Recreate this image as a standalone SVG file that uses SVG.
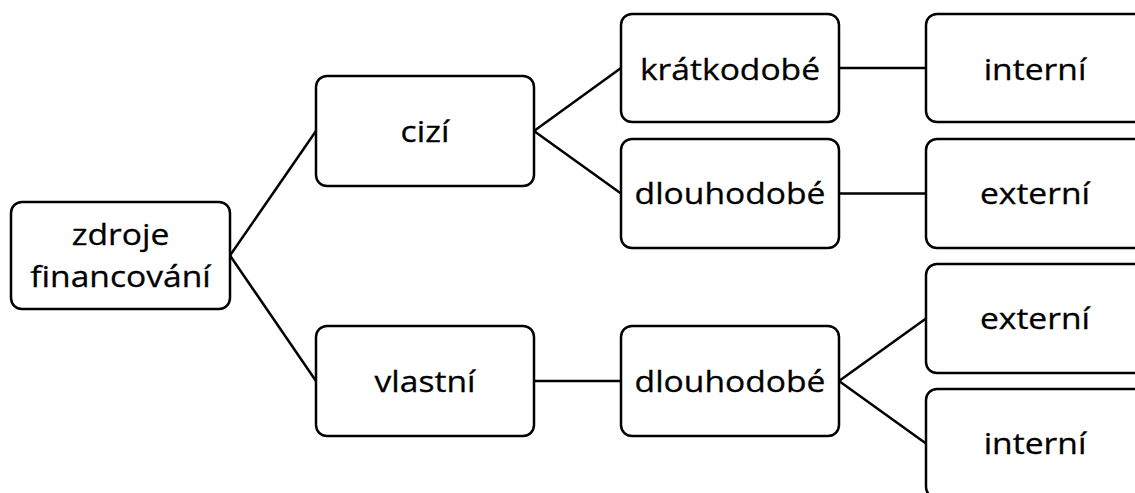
<svg xmlns="http://www.w3.org/2000/svg" width="1135" height="493" viewBox="0 0 1135 493">
<style>
.box{fill:#fff;stroke:#000;stroke-width:2.5}
.lbl{font-family:"Open Sans","Liberation Sans",sans-serif;font-size:30px;fill:#000;stroke:#000;stroke-width:0.3;text-anchor:middle}
.conn line{stroke:#000;stroke-width:2.5}
</style>
<rect width="1135" height="493" fill="#fff"/>
<g class="conn" id="connectors">
<line x1="230" y1="255.5" x2="316" y2="131"/>
<line x1="230" y1="255.5" x2="316" y2="381"/>
<line x1="534" y1="131" x2="621" y2="68"/>
<line x1="534" y1="131" x2="621" y2="193.5"/>
<line x1="839" y1="68" x2="926" y2="68"/>
<line x1="839" y1="193.5" x2="926" y2="193.5"/>
<line x1="534" y1="381" x2="621" y2="381"/>
<line x1="839" y1="381" x2="926" y2="318.5"/>
<line x1="839" y1="381" x2="926" y2="443.5"/>
</g>
<g id="n-zdroje">
<rect class="box" x="11" y="202" width="219" height="107" rx="11"/>
<text class="lbl" transform="translate(120.5,245) scale(1.12,1)">zdroje</text>
<text class="lbl" transform="translate(120.5,287) scale(1.12,1)">financování</text>
</g>
<g id="n-cizi">
<rect class="box" x="316" y="76" width="218" height="110" rx="11"/>
<text class="lbl" transform="translate(425,142) scale(1.12,1)">cizí</text>
</g>
<g id="n-vlastni">
<rect class="box" x="316" y="326" width="218" height="110" rx="11"/>
<text class="lbl" transform="translate(425,392) scale(1.12,1)">vlastní</text>
</g>
<g id="n-kratkodobe">
<rect class="box" x="621" y="14" width="218" height="108" rx="11"/>
<text class="lbl" transform="translate(730,80) scale(1.12,1)">krátkodobé</text>
</g>
<g id="n-dlouhodobe1">
<rect class="box" x="621" y="139" width="218" height="109" rx="11"/>
<text class="lbl" transform="translate(730,204) scale(1.12,1)">dlouhodobé</text>
</g>
<g id="n-dlouhodobe2">
<rect class="box" x="621" y="326" width="218" height="110" rx="11"/>
<text class="lbl" transform="translate(730,392) scale(1.12,1)">dlouhodobé</text>
</g>
<g id="n-interni1">
<rect class="box" x="926" y="14" width="219" height="108" rx="11"/>
<text class="lbl" transform="translate(1035,80) scale(1.12,1)">interní</text>
</g>
<g id="n-externi1">
<rect class="box" x="926" y="139" width="219" height="109" rx="11"/>
<text class="lbl" transform="translate(1035,204) scale(1.12,1)">externí</text>
</g>
<g id="n-externi2">
<rect class="box" x="926" y="264" width="219" height="109" rx="11"/>
<text class="lbl" transform="translate(1035,329) scale(1.12,1)">externí</text>
</g>
<g id="n-interni2">
<rect class="box" x="926" y="389" width="219" height="109" rx="11"/>
<text class="lbl" transform="translate(1035,454) scale(1.12,1)">interní</text>
</g>
</svg>
